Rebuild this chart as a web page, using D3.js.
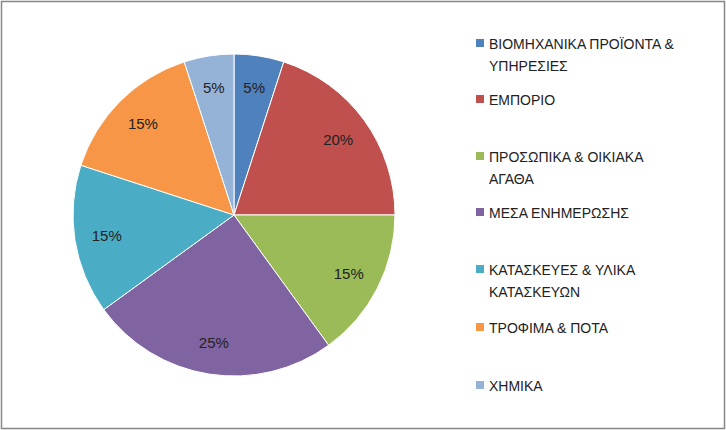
<!DOCTYPE html>
<html><head><meta charset="utf-8">
<script src="https://cdn.jsdelivr.net/npm/d3@7"></script>
<style>body{margin:0;background:#fff}</style></head>
<body><svg id="c" width="726" height="430"></svg>
<script>
const categories = ["ΒΙΟΜΗΧΑΝΙΚΑ ΠΡΟΪΟΝΤΑ & ΥΠΗΡΕΣΙΕΣ","ΕΜΠΟΡΙΟ","ΠΡΟΣΩΠΙΚΑ & ΟΙΚΙΑΚΑ ΑΓΑΘΑ","ΜΕΣΑ ΕΝΗΜΕΡΩΣΗΣ","ΚΑΤΑΣΚΕΥΕΣ & ΥΛΙΚΑ ΚΑΤΑΣΚΕΥΩΝ","ΤΡΟΦΙΜΑ & ΠΟΤΑ","ΧΗΜΙΚΑ"];
const legendLines = [["ΒΙΟΜΗΧΑΝΙΚΑ ΠΡΟΪΟΝΤΑ &","ΥΠΗΡΕΣΙΕΣ"],["ΕΜΠΟΡΙΟ"],["ΠΡΟΣΩΠΙΚΑ & ΟΙΚΙΑΚΑ","ΑΓΑΘΑ"],["ΜΕΣΑ ΕΝΗΜΕΡΩΣΗΣ"],["ΚΑΤΑΣΚΕΥΕΣ & ΥΛΙΚΑ","ΚΑΤΑΣΚΕΥΩΝ"],["ΤΡΟΦΙΜΑ & ΠΟΤΑ"],["ΧΗΜΙΚΑ"]];
const values = [5,20,15,25,15,15,5];
const colors = ["#4F81BD","#C0504D","#9BBB59","#8064A2","#4BACC6","#F79646","#95B3D7"];

const svg = d3.select("#c");
svg.append("rect").attr("x",1.5).attr("y",1.5).attr("width",723).attr("height",427)
  .attr("fill","#fff").attr("stroke","#868686").attr("stroke-width",1.5);
const cx=234, cy=215, r=161;
const g = svg.append("g").attr("transform",`translate(${cx},${cy})`);
const pie = d3.pie().sort(null).value(d=>d)(values);
const arc = d3.arc().innerRadius(0).outerRadius(r);
const lab = d3.arc().innerRadius(r*0.8).outerRadius(r*0.8);
g.selectAll("path").data(pie).join("path").attr("d",arc)
  .attr("fill",(d,i)=>colors[i]).attr("stroke","#fff").attr("stroke-width",1);
g.selectAll("text").data(pie).join("text")
  .attr("transform",d=>`translate(${lab.centroid(d)})`)
  .attr("text-anchor","middle").attr("dominant-baseline","central")
  .style("font-family","Liberation Sans, Arial, sans-serif").style("font-size","15px").attr("fill","#222")
  .text(d=>d.data+"%");
const ys=[44,100,157,213,270,328,386];
const lg = svg.append("g").style("font-family","Liberation Sans, Arial, sans-serif").style("font-size","14px");
legendLines.forEach((lines,i)=>{
  lg.append("rect").attr("x",476).attr("y",ys[i]-5).attr("width",8).attr("height",8).attr("fill",colors[i]);
  lines.forEach((t,j)=>lg.append("text").attr("x",489).attr("y",ys[i]+j*22).attr("dominant-baseline","central").attr("fill","#222").text(t));
});
</script></body></html>
